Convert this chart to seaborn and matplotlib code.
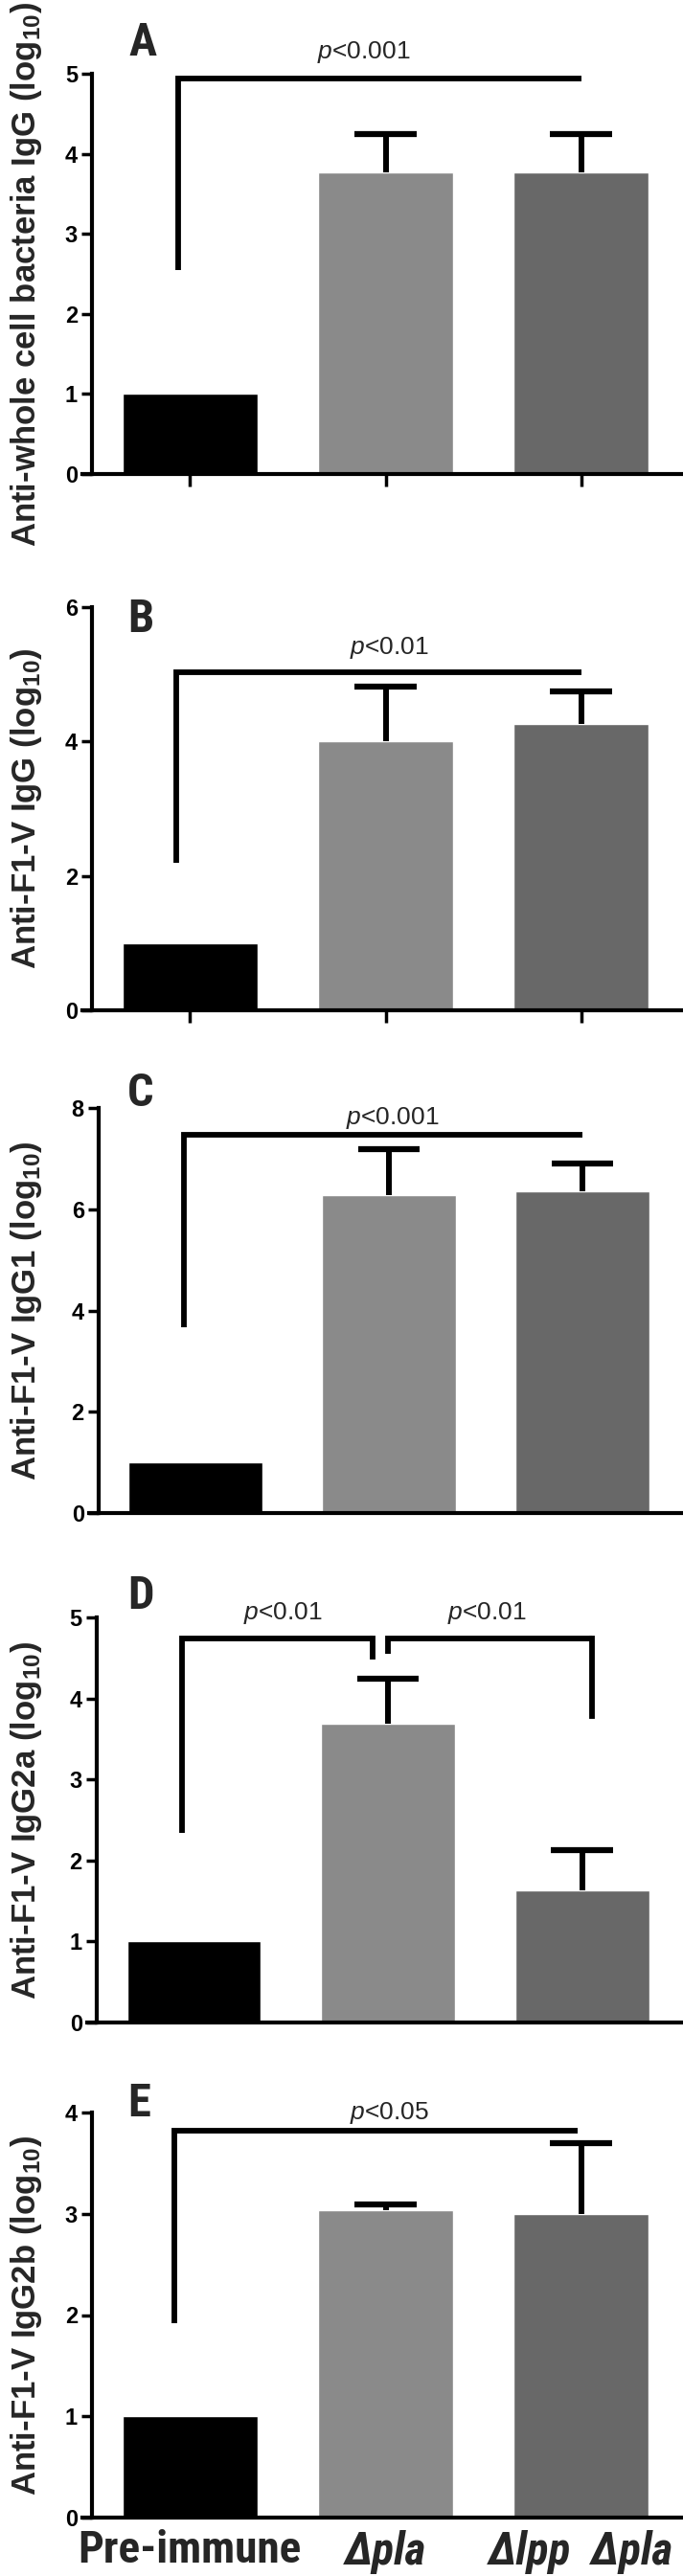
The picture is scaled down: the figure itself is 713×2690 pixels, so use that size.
import matplotlib
matplotlib.use("Agg")
import matplotlib.pyplot as plt
from matplotlib import font_manager
import seaborn as sns

# groups / colours
groups = ["Pre-immune", "Δpla", "Δlpp  Δpla"]
bar_colors = ["#000000", "#8a8a8a", "#686868"]
group_italic = [False, True, True]

# one entry per panel A..E
panel_letters = ["A", "B", "C", "D", "E"]
y_labels = [
    "Anti-whole cell bacteria IgG (log$_{10}$)",
    "Anti-F1-V IgG (log$_{10}$)",
    "Anti-F1-V IgG1 (log$_{10}$)",
    "Anti-F1-V IgG2a (log$_{10}$)",
    "Anti-F1-V IgG2b (log$_{10}$)",
]
y_max = [5, 6, 8, 5, 4]
y_step = [1, 2, 2, 1, 1]

means = [
    [1.0, 3.77, 3.77],
    [1.0, 4.00, 4.26],
    [1.0, 6.27, 6.35],
    [1.0, 3.69, 1.63],
    [1.0, 3.04, 3.00],
]
errors = [
    [0.0, 0.48, 0.48],
    [0.0, 0.81, 0.49],
    [0.0, 0.92, 0.55],
    [0.0, 0.55, 0.50],
    [0.0, 0.05, 0.70],
]

# significance brackets: x_left, x_right, y_top, left leg end, right leg end (None = no leg), label, label x, label y
brackets = [
    [(-0.06, 2.0, 4.94, 2.55, None, "$p$<0.001", 0.89, 5.27)],
    [(-0.07, 2.0, 5.03, 2.19, None, "$p$<0.01", 1.02, 5.39)],
    [(-0.06, 2.0, 7.47, 3.66, None, "$p$<0.001", 1.02, 7.8)],
    [(-0.06, 0.92, 4.74, 2.34, 4.51, "$p$<0.01", 0.46, 5.05),
     (1.0, 2.05, 4.74, 4.55, 3.78, "$p$<0.01", 1.51, 5.05)],
    [(-0.08, 1.98, 3.82, 1.92, None, "$p$<0.05", 1.02, 4.0)],
]

# axes placement in pixels: left edge, y pixel of top tick, y pixel of zero
ax_left_px = [86, 86, 93, 91, 86]
ax_top_px = [77, 634, 1157, 1689, 2206]
ax_zero_px = [495, 1055, 1580, 2112, 2629]
letter_px = [(134, 58), (133, 660), (133, 1155), (133, 1680), (133, 2210)]
show_xticks = [True, True, False, False, False]

W, H = 713, 2690

sns.set_theme(style="ticks")
plt.rcParams["font.family"] = ["Liberation Sans", "DejaVu Sans"]
plt.rcParams["mathtext.fontset"] = "custom"
plt.rcParams["mathtext.rm"] = "Liberation Sans:bold"
plt.rcParams["mathtext.it"] = "Liberation Sans:italic"
plt.rcParams["mathtext.bf"] = "Liberation Sans:bold"

# look for a narrow / condensed family for the group labels
installed = {f.name for f in font_manager.fontManager.ttflist}
narrow_name = None
for cand in ["Liberation Sans Narrow", "Arial Narrow", "Roboto Condensed",
             "Open Sans Condensed", "Noto Sans Condensed", "DejaVu Sans Condensed"]:
    if cand in installed:
        narrow_name = cand
        break
if narrow_name is None:
    for name in sorted(installed):
        if "Narrow" in name or "Condensed" in name:
            narrow_name = name
            break
if narrow_name:
    narrow = [narrow_name, "Liberation Sans", "DejaVu Sans"]
    xlab_size = 34
else:
    narrow = ["Liberation Sans", "DejaVu Sans"]
    xlab_size = 24

fig = plt.figure(figsize=(W / 100, H / 100), dpi=100)

for i in range(5):
    left = ax_left_px[i] / W
    bottom = 1 - ax_zero_px[i] / H
    height = (ax_zero_px[i] - ax_top_px[i]) / H
    ax = fig.add_axes([left, bottom, 1 - left, height])

    sns.barplot(x=groups, y=means[i], hue=groups, palette=bar_colors,
                width=0.69, saturation=1, legend=False, ax=ax, zorder=2)

    # upper-only error bars with caps
    for k, (m, e) in enumerate(zip(means[i], errors[i])):
        if e > 0:
            ax.vlines(k, m, m + e, color="black", lw=4.3, zorder=3)
            ax.hlines(m + e, k - 0.16, k + 0.16, color="black", lw=4.5, zorder=3)

    # significance brackets
    for x0, x1, yt, yl, yr, lab, lx, ly in brackets[i]:
        ax.plot([x0, x0, x1], [yl, yt, yt], color="black", lw=4.2,
                solid_joinstyle="miter", solid_capstyle="butt", clip_on=False, zorder=4)
        if yr is not None:
            ax.plot([x1, x1], [yt, yr], color="black", lw=4.2,
                    solid_capstyle="projecting", clip_on=False, zorder=4)
        ax.text(lx, ly, lab, ha="center", va="center", fontsize=19, clip_on=False)

    ax.set_xlim(-0.55, 2.52)
    ax.set_ylim(0, y_max[i])
    ax.set_yticks(range(0, y_max[i] + 1, y_step[i]))
    ax.spines["left"].set_position(("data", -0.5))
    ax.spines["left"].set_bounds(0, y_max[i])
    for s in ["left", "bottom"]:
        ax.spines[s].set_linewidth(3)
        ax.spines[s].set_color("black")
    sns.despine(ax=ax)

    ax.tick_params(axis="y", length=8, width=2.5, pad=3, labelsize=17, colors="black")
    for t in ax.get_yticklabels():
        t.set_fontweight("bold")

    if show_xticks[i]:
        ax.tick_params(axis="x", length=9, width=2.5, direction="out", colors="black")
    else:
        ax.tick_params(axis="x", length=0)

    if i == 4:
        ax.tick_params(axis="x", pad=9)
        for t, it in zip(ax.get_xticklabels(), group_italic):
            t.set_fontfamily(narrow)
            t.set_fontweight("bold")
            t.set_fontsize(xlab_size)
            t.set_fontstyle("italic" if it else "normal")
    else:
        ax.set_xticklabels([])

    ax.set_xlabel("")
    ax.set_ylabel(y_labels[i], fontsize=25, fontweight="bold")
    ax.yaxis.set_label_coords((46 - ax_left_px[i]) / (W - ax_left_px[i]), 0.5)

    lx, ly = letter_px[i]
    fig.text(lx / W, 1 - ly / H, panel_letters[i], fontsize=35,
             fontweight="bold", family=narrow, va="baseline", ha="left")

fig.savefig("out.png", dpi=100)
